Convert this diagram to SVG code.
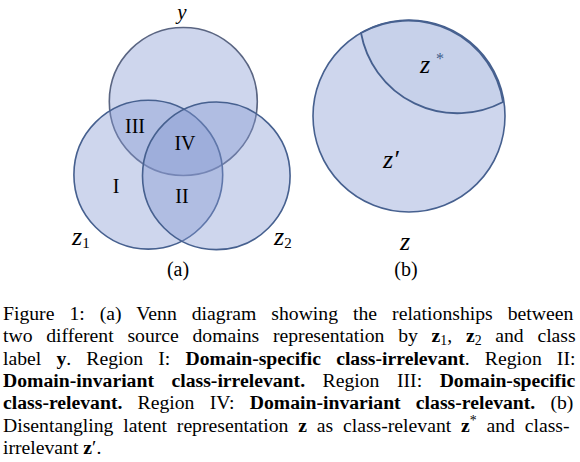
<svg xmlns="http://www.w3.org/2000/svg" width="580" height="462" viewBox="0 0 580 462">
<style>
.set{fill:#8598d2;fill-opacity:0.4;stroke:#46608f;stroke-width:1.6}
.top{stroke:#5a6582}
.m{font-family:"Liberation Serif",serif;font-style:italic;fill:#000}
.r{font-family:"Liberation Serif",serif;fill:#000}
.cap{font-family:"Liberation Serif",serif;font-size:19.7px;fill:#000}
.b{font-weight:bold}
.sub{font-size:13.8px;baseline-shift:-3px}
.sup{font-size:13.8px;baseline-shift:7px}
</style>
<rect width="580" height="462" fill="#fff"/>
<g id="venn">
  <g id="set-y"><circle class="set top" cx="183.3" cy="101.5" r="74"/></g>
  <g id="set-z1"><circle class="set" cx="148.3" cy="174.7" r="74.4"/></g>
  <g id="set-z2"><circle class="set" cx="216.3" cy="175.8" r="73.8"/></g>
  <text class="m" x="182" y="19" font-size="21" text-anchor="middle">y</text>
  <text class="m" x="72" y="245" font-size="26">z<tspan class="r" font-style="normal" font-size="15" dy="3">1</tspan></text>
  <text class="m" x="274" y="245" font-size="26">z<tspan class="r" font-style="normal" font-size="15" dy="3">2</tspan></text>
  <text class="r" x="135" y="133" font-size="20" text-anchor="middle">III</text>
  <text class="r" x="185" y="150" font-size="20" text-anchor="middle">IV</text>
  <text class="r" x="116" y="193" font-size="20" text-anchor="middle">I</text>
  <text class="r" x="182" y="203" font-size="20" text-anchor="middle">II</text>
  <text class="r" x="178" y="276" font-size="20" text-anchor="middle">(a)</text>
</g>
<g id="latent">
  <g id="z-circle"><circle class="set" cx="409" cy="116" r="96"/></g>
  <g id="z-star-region"><path d="M361,33 A98,98 0 0 0 503,102 A96,96 0 0 0 361,33 Z" fill="#8598d2" fill-opacity="0.08" stroke="#46608f" stroke-width="1.8"/></g>
  <text class="m" x="420" y="73" font-size="26">z</text>
  <text class="r" x="436" y="64" font-size="16" style="fill:#3f5c8a">*</text>
  <text class="m" x="383" y="168" font-size="26">z′</text>
  <text class="m" x="400" y="250" font-size="26">z</text>
  <text class="r" x="406" y="276" font-size="20" text-anchor="middle">(b)</text>
</g>
<g id="caption" class="cap">
  <text x="3" y="320" word-spacing="10.1">Figure 1: (a) Venn diagram showing the relationships between</text>
  <text x="3" y="342.3" word-spacing="8.8">two different source domains representation by <tspan class="b">z</tspan><tspan class="sub">1</tspan>, <tspan class="b">z</tspan><tspan class="sub">2</tspan> and class</text>
  <text x="3" y="364.6" word-spacing="10.2">label <tspan class="b">y</tspan>. Region I: <tspan class="b">Domain-specific class-irrelevant</tspan>. Region II:</text>
  <text x="3" y="386.9" word-spacing="12.6"><tspan class="b">Domain-invariant class-irrelevant.</tspan> Region III: <tspan class="b">Domain-specific</tspan></text>
  <text x="3" y="409.2" word-spacing="10.3"><tspan class="b">class-relevant.</tspan> Region IV: <tspan class="b">Domain-invariant class-relevant.</tspan> (b)</text>
  <text x="3" y="431.5" word-spacing="4.9">Disentangling latent representation <tspan class="b">z</tspan> as class-relevant <tspan class="b">z</tspan><tspan class="sup">*</tspan> and class-</text>
  <text x="3" y="453.8">irrelevant <tspan class="b">z</tspan>′.</text>
</g>
</svg>
